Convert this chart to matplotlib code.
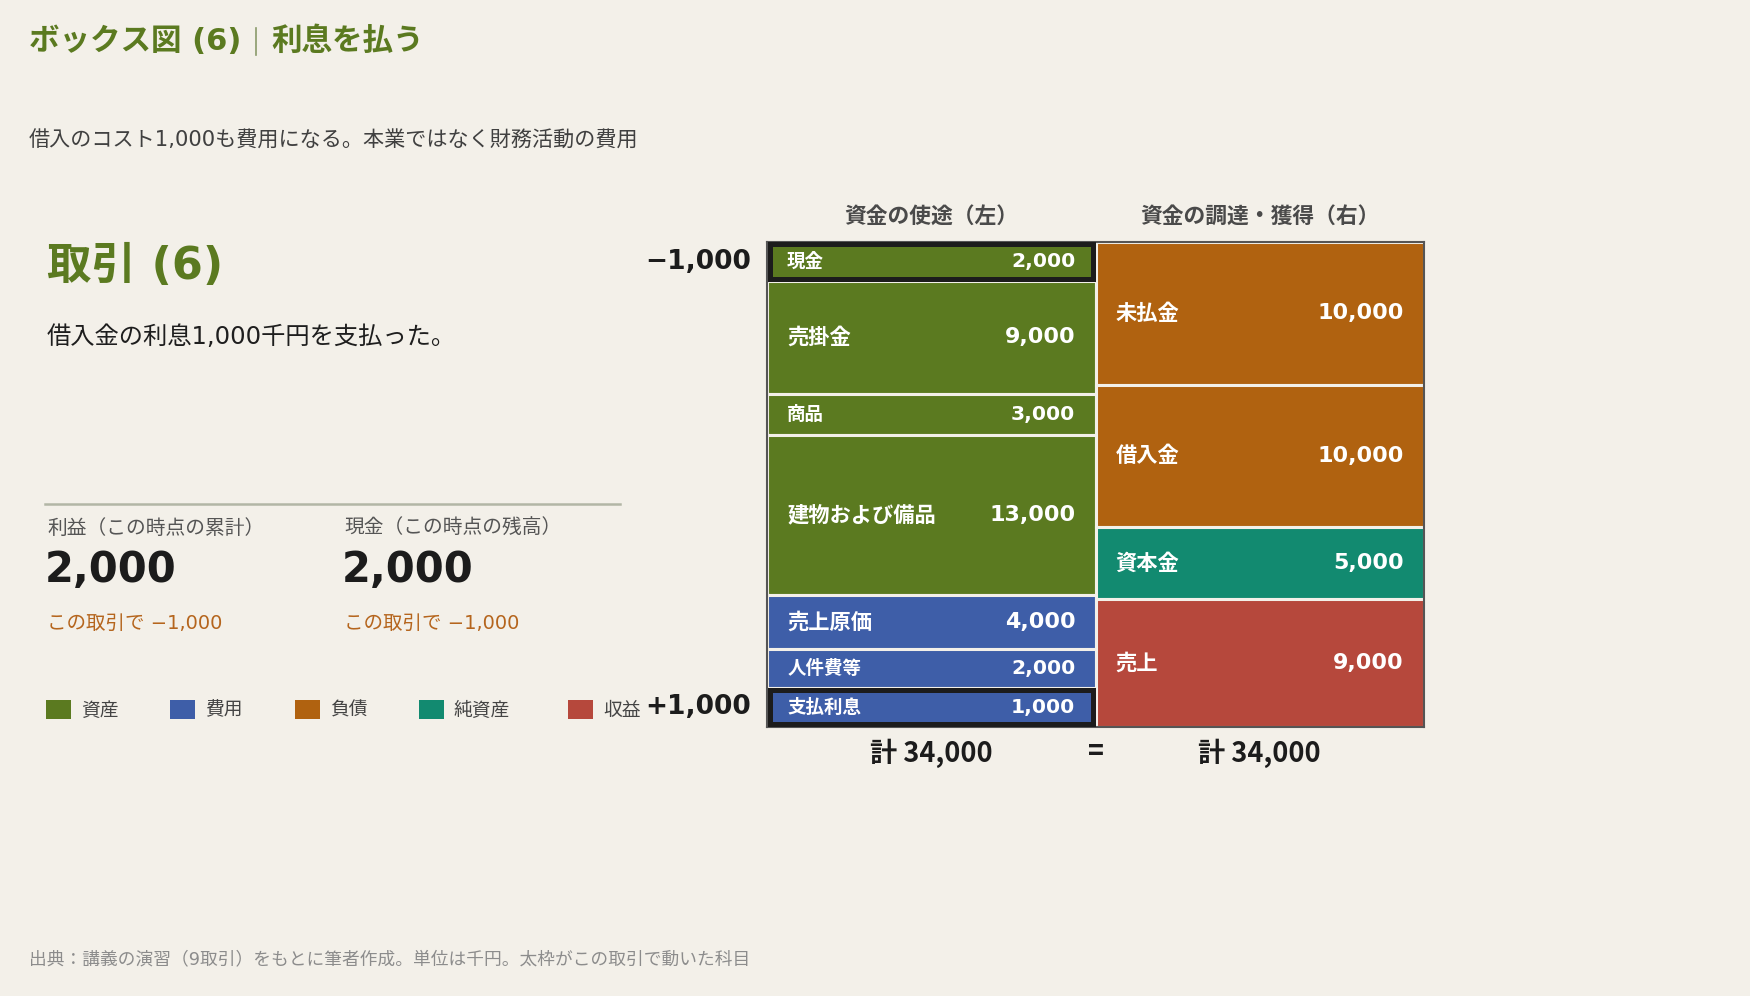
import matplotlib
matplotlib.use("Agg")
import matplotlib.pyplot as plt
import matplotlib.transforms as mtransforms
from matplotlib.patches import Rectangle
from matplotlib.lines import Line2D
import numpy as np

plt.rcParams['font.family'] = ['Noto Sans CJK JP', 'DejaVu Sans']

# ---------------- data ----------------
title_left = "ボックス図 (6)"
title_right = "利息を払う"
subtitle = "借入のコスト1,000も費用になる。本業ではなく財務活動の費用"
trans_title = "取引 (6)"
trans_desc = "借入金の利息1,000千円を支払った。"
footer = "出典：講義の演習（9取引）をもとに筆者作成。単位は千円。太枠がこの取引で動いた科目"

left_names = ['現金', '売掛金', '商品', '建物および備品', '売上原価', '人件費等', '支払利息']
left_values = [2000, 9000, 3000, 13000, 4000, 2000, 1000]
left_types = ['資産', '資産', '資産', '資産', '費用', '費用', '費用']

right_names = ['未払金', '借入金', '資本金', '売上']
right_values = [10000, 10000, 5000, 9000]
right_types = ['負債', '負債', '純資産', '収益']

highlight_names = ['現金', '支払利息']
highlight_changes = ['−1,000', '+1,000']

kpi_labels = ['利益（この時点の累計）', '現金（この時点の残高）']
kpi_values = [2000, 2000]
kpi_deltas = [-1000, -1000]

legend_types = ['資産', '費用', '負債', '純資産', '収益']
type_colors = {'資産': '#5b7a20', '費用': '#3e5ea8', '負債': '#b06210',
               '純資産': '#128a70', '収益': '#b6483c'}

header_left = "資金の使途（左）"
header_right = "資金の調達・獲得（右）"

# ---------------- style ----------------
BG = '#f3f0e9'
GREEN = '#5b7a20'
W, H = 1750, 996
fig = plt.figure(figsize=(W / 100, H / 100), dpi=100, facecolor=BG)

cv = fig.add_axes([0, 0, 1, 1])
cv.set_xlim(0, W)
cv.set_ylim(H, 0)
cv.axis('off')
cv.set_facecolor(BG)

NUMFONT = ['DejaVu Sans']
MIXFONT = ['DejaVu Sans', 'Noto Sans CJK JP']


def fmt(v):
    return f"{v:,}"


def fmt_signed(v):
    s = f"{abs(v):,}"
    return ('−' if v < 0 else '+') + s


# Title
cv.text(29, 41, title_left, fontsize=22, fontweight='bold', color=GREEN, va='center', ha='left',
        family=MIXFONT)
cv.add_line(Line2D([256, 256], [28, 55], color='#8a9a6a', lw=1.2))
cv.text(271, 41, title_right, fontsize=22, fontweight='bold', color=GREEN, va='center', ha='left')

cv.text(29, 141, subtitle, fontsize=15.2, color='#404040', va='center', ha='left', family=MIXFONT)

cv.text(47, 266, trans_title, fontsize=32, fontweight='bold', color=GREEN, va='center', ha='left',
        family=MIXFONT)
cv.text(47, 337, trans_desc, fontsize=17.5, color='#1e1e1e', va='center', ha='left', family=MIXFONT)

cv.add_line(Line2D([45, 620], [504, 504], color='#b2b6a6', lw=1.8))

kpi_x = [47, 344]
for x, lab, val, d in zip(kpi_x, kpi_labels, kpi_values, kpi_deltas):
    cv.text(x, 528, lab, fontsize=14.2, color='#555555', va='center', ha='left')
    cv.text(x - 2, 570, fmt(val), fontsize=30, fontweight='bold', color='#1c1c1c',
            va='center', ha='left', family=NUMFONT)
    cv.text(x, 623, "この取引で " + fmt_signed(d), fontsize=14, color='#b5651d',
            va='center', ha='left', family=MIXFONT)

# Legend
leg_sq_x = [46, 170, 295, 419, 568]
for x, t in zip(leg_sq_x, legend_types):
    cv.add_patch(Rectangle((x, 700), 25, 19, facecolor=type_colors[t], edgecolor='none'))
    cv.text(x + 35, 710, t, fontsize=13.5, color='#444444', va='center', ha='left')

cv.text(29, 959, footer, fontsize=12.75, color='#8c8c8c', va='center', ha='left', family=MIXFONT)

# ---------------- box diagram ----------------
bx0, bx1, by0, by1 = 767, 1424, 242, 727
ax = fig.add_axes([bx0 / W, 1 - by1 / H, (bx1 - bx0) / W, (by1 - by0) / H])
ax.set_facecolor(BG)
total = float(sum(right_values))
ax.set_xlim(0, 2)
ax.set_ylim(total, 0)
ax.set_xticks([])
ax.set_yticks([])
for s in ax.spines.values():
    s.set_color('#555555')
    s.set_linewidth(1.5)
    s.set_zorder(4)

# left column layout: floor small items, add small pad, rescale to the same total
floor_units, pad_units = 2800, 500
lv = np.array(left_values, dtype=float)
lh = np.maximum(lv, floor_units) + pad_units
lh = lh * total / lh.sum()
lb = np.concatenate([[0], np.cumsum(lh)[:-1]])

rv = np.array(right_values, dtype=float)
rb = np.concatenate([[0], np.cumsum(rv)[:-1]])


def draw_column(x0, names, vals, heights, bottoms, types, big_always=False):
    for name, v, h, b, t in zip(names, vals, heights, bottoms, types):
        ax.bar(x0, h, bottom=b, width=1, align='edge', color=type_colors[t],
               edgecolor=BG, linewidth=2.2, zorder=2)
        big = big_always or v >= 4000
        fs_l = 15.3 if big else 13.3
        fs_v = 16 if big else 14.6
        mid = b + h / 2
        ax.annotate(name, xy=(x0, mid), xytext=(14.5, 0), textcoords='offset points',
                    fontsize=fs_l, color='white', va='center', ha='left', zorder=6,
                    fontweight='bold')
        ax.annotate(fmt(int(v)), xy=(x0 + 1, mid), xytext=(-14.5, 0), textcoords='offset points',
                    fontsize=fs_v, color='white', va='center', ha='right', zorder=6,
                    fontweight='bold', family=NUMFONT)


draw_column(0, left_names, left_values, lh, lb, left_types)
draw_column(1, right_names, right_values, rv, rb, right_types, big_always=True)

# highlighted (moved) items: thick frame drawn inside the cell
frame_px = 5.0
px_x = 2.0 / (bx1 - bx0)
px_y = total / (by1 - by0)
for name, ch in zip(highlight_names, highlight_changes):
    i = left_names.index(name)
    ix, iy = frame_px / 2 * px_x, frame_px / 2 * px_y
    ax.add_patch(Rectangle((ix, lb[i] + iy), 1 - 2 * ix, lh[i] - 2 * iy, facecolor='none',
                           edgecolor='#1c1c1c', linewidth=frame_px * 0.72, zorder=5,
                           joinstyle='miter'))
    ax.annotate(ch, xy=(0, lb[i] + lh[i] / 2), xytext=(-11.5, 0), textcoords='offset points',
                fontsize=19, fontweight='bold', color='#1c1c1c', va='center', ha='right',
                family=NUMFONT, annotation_clip=False)

# headers and totals
bt = mtransforms.blended_transform_factory(ax.transData, cv.transData)
ax.text(0.5, 216, header_left, transform=bt, fontsize=15.7, fontweight='bold', color='#4a4a4a',
        ha='center', va='center')
ax.text(1.5, 216, header_right, transform=bt, fontsize=15.7, fontweight='bold', color='#4a4a4a',
        ha='center', va='center')
ax.text(0.5, 753, "計 " + fmt(int(sum(left_values))), transform=bt, fontsize=19.5, fontweight='bold',
        color='#1c1c1c', ha='center', va='center')
ax.text(1.0, 752, "=", transform=bt, fontsize=19.5, fontweight='bold', color='#1c1c1c',
        ha='center', va='center')
ax.text(1.5, 753, "計 " + fmt(int(sum(right_values))), transform=bt, fontsize=19.5, fontweight='bold',
        color='#1c1c1c', ha='center', va='center')

fig.savefig('out.png', dpi=100, facecolor=BG)
